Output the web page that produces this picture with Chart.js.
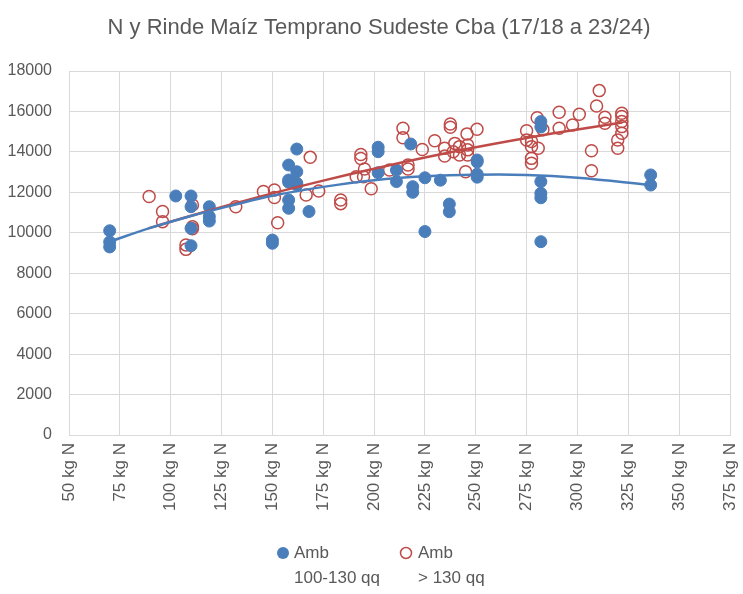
<!DOCTYPE html>
<html>
<head>
<meta charset="utf-8">
<script src="https://cdn.jsdelivr.net/npm/chart.js@4.4.1/dist/chart.umd.min.js"></script>
<style>
  html, body { margin: 0; padding: 0; background: #fff; }
  #wrap { width: 743px; height: 594px; }
</style>
</head>
<body>
<div id="wrap"><canvas id="chart" width="743" height="594"></canvas></div>
<script>
const chartTitle = 'N y Rinde Maíz Temprano Sudeste Cba (17/18 a 23/24)';
const legendLabels = [['Amb', '100-130 qq'], ['Amb', '> 130 qq']];

// Amb 100-130 qq (filled blue)
const lowN = [70, 70, 70, 102.5, 110, 110, 110, 110, 119, 119, 119, 150, 150,
  158, 158, 158, 158, 158, 162, 162, 162, 162, 168, 202, 202, 202, 211, 211, 218,
  219, 219, 225, 225, 232.6, 237, 237, 250.7, 250.7, 250.7, 250.7,
  282, 282, 282, 282, 282, 282, 336, 336];
const lowY = [10100, 9550, 9300, 11820, 11820, 11290, 10220, 9360, 11290, 10800, 10580, 9640, 9480,
  13350, 12610, 12500, 11620, 11210, 14140, 13020, 12450, 12360, 11050, 14230, 14010, 12970, 13100, 12530, 14390,
  12280, 12000, 12720, 10060, 12600, 11420, 11040, 13600, 13500, 12900, 12750,
  15500, 15230, 12530, 11950, 11730, 9560, 12860, 12360];

// Amb > 130 qq (hollow red)
const highN = [89.4, 96, 96, 110.7, 110.7, 110.7, 107.5, 107.5, 132, 145.6, 151, 151, 152.6,
  166.6, 168.6, 172.8, 183.6, 183.6, 193.5, 193.5, 195.3, 191.2, 194.8, 198.6, 207.6,
  214.2, 214.2, 216.7, 216.7, 223.7, 229.8, 234.7, 234.7, 237.5, 237.5, 239.7, 238.9,
  242, 242, 245.7, 246, 246, 246, 245, 250.6, 275, 275, 277.4, 277.4, 277.4, 277.4,
  280.2, 280.7, 283, 291, 291, 297.6, 300.9, 306.9, 306.9, 309.4, 310.7, 313.5, 313.5,
  319.8, 319.8, 321.8, 321.8, 321.8, 321.8, 321.8];
const highY = [11790, 11050, 10550, 11375, 10300, 10200, 9400, 9180, 11290, 12040, 12120, 11740, 10500,
  11870, 13730, 12070, 11620, 11440, 13870, 13670, 13150, 12770, 12770, 12180, 13100,
  15170, 14700, 13350, 13150, 14120, 14550, 14180, 13800, 15380, 15220, 14420, 14010,
  14260, 13850, 14890, 14340, 14100, 13850, 13020, 15120, 15050, 14590, 14510, 14260, 13680, 13440,
  15690, 14180, 15100, 15960, 15170, 15330, 15860, 14060, 13070, 16270, 17030, 15710, 15420,
  14590, 14180, 15910, 15750, 15500, 15250, 14920];

// trend lines
const trendLowN = [70, 90, 110, 130, 150, 175, 200, 225, 250, 275, 300, 336];
const trendLowY = [9560, 10240, 10830, 11350, 11830, 12270, 12600, 12790, 12870, 12860, 12720, 12360];
const trendHighN = [89, 110, 130, 150, 175, 200, 225, 250, 275, 300, 322];
const trendHighY = [10220, 10840, 11410, 11950, 12580, 13170, 13720, 14230, 14690, 15110, 15450];

const blue = '#4a7ebb';
const red = '#be4b48';
const textColor = '#595959';
const gridColor = '#d9d9d9';
const fontFamily = '"Liberation Sans", Arial, sans-serif';

const toPoints = (xs, ys) => xs.map((x, i) => ({ x: x, y: ys[i] }));

// title + two-line legend drawn by hand (the built-in legend has no second line)
const titleLegend = {
  id: 'titleLegend',
  afterDraw(chart) {
    const ctx = chart.ctx;
    ctx.save();
    ctx.fillStyle = textColor;
    ctx.textBaseline = 'middle';
    ctx.font = '22px ' + fontFamily;
    ctx.textAlign = 'center';
    ctx.fillText(chartTitle, 379, 28);

    ctx.font = '17px ' + fontFamily;
    ctx.textAlign = 'left';
    // blue entry
    ctx.beginPath();
    ctx.arc(283, 553, 6, 0, Math.PI * 2);
    ctx.fillStyle = blue;
    ctx.fill();
    ctx.fillStyle = textColor;
    ctx.fillText(legendLabels[0][0], 294, 553);
    ctx.fillText(legendLabels[0][1], 294, 578);
    // red entry
    ctx.beginPath();
    ctx.arc(406, 553, 5.5, 0, Math.PI * 2);
    ctx.strokeStyle = red;
    ctx.lineWidth = 1.5;
    ctx.stroke();
    ctx.fillText(legendLabels[1][0], 418, 553);
    ctx.fillText(legendLabels[1][1], 418, 578);
    ctx.restore();
  }
};

const ctx = document.getElementById('chart').getContext('2d');
new Chart(ctx, {
  type: 'scatter',
  data: {
    datasets: [
      { type: 'line', data: toPoints(trendLowN, trendLowY), borderColor: blue, borderWidth: 2.5,
        pointRadius: 0, tension: 0.4, fill: false, order: 0 },
      { type: 'line', data: toPoints(trendHighN, trendHighY), borderColor: red, borderWidth: 2.5,
        pointRadius: 0, tension: 0.4, fill: false, order: 0 },
      { label: legendLabels[0].join(' '), data: toPoints(lowN, lowY), backgroundColor: blue,
        borderColor: blue, borderWidth: 1, pointRadius: 6, order: 1 },
      { label: legendLabels[1].join(' '), data: toPoints(highN, highY), backgroundColor: 'rgba(255,255,255,0)',
        borderColor: red, borderWidth: 1.5, pointRadius: 6, order: 1 }
    ]
  },
  options: {
    responsive: false,
    animation: false,
    layout: { padding: { top: 71, right: 13, left: 0, bottom: 0 } },
    plugins: {
      legend: { display: false },
      title: { display: false },
      tooltip: { enabled: false }
    },
    scales: {
      x: {
        type: 'linear', min: 50, max: 375,
        ticks: {
          stepSize: 25, minRotation: 90, maxRotation: 90, padding: 8,
          color: textColor, font: { family: fontFamily, size: 17 },
          callback: v => v + ' kg N'
        },
        grid: { color: gridColor, drawTicks: false },
        border: { color: gridColor },
        afterFit: s => { s.height = 159; s.paddingLeft = 0; s.paddingRight = 0; }
      },
      y: {
        min: 0, max: 18000,
        ticks: { stepSize: 2000, padding: 17, color: textColor, font: { family: fontFamily, size: 16 },
          callback: v => String(v) },
        grid: { color: gridColor, drawTicks: false },
        border: { color: gridColor },
        afterFit: s => { s.width = 69; s.paddingTop = 0; s.paddingBottom = 0; }
      }
    }
  },
  plugins: [titleLegend]
});
</script>
</body>
</html>
